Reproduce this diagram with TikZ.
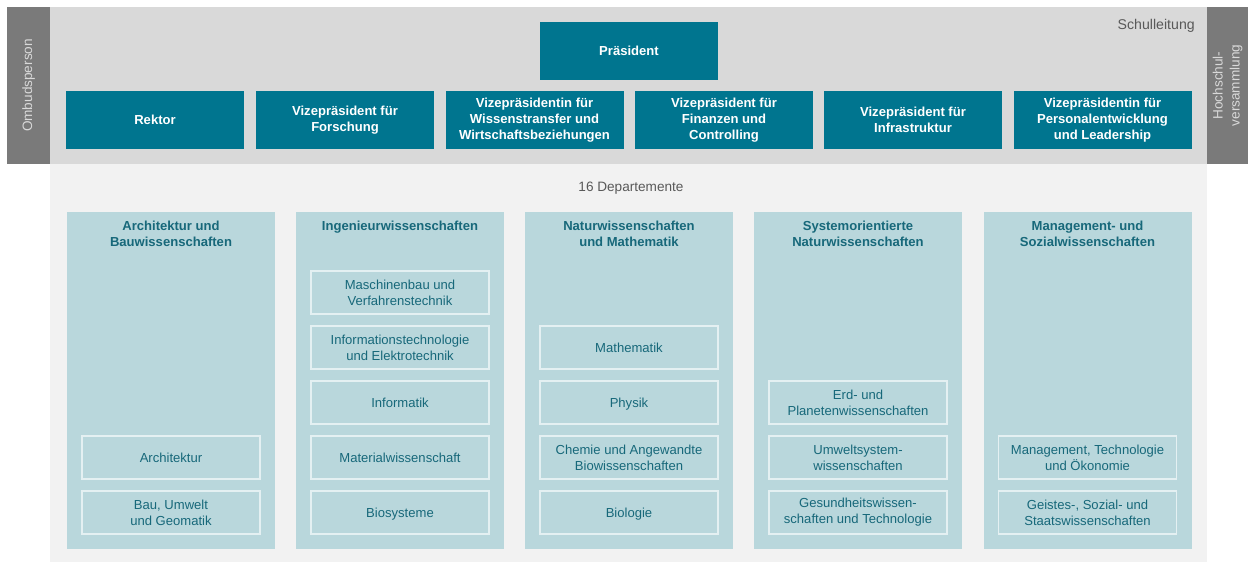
\documentclass[tikz,border=0pt]{standalone}
\usepackage{fontspec}
\setmainfont{Liberation Sans}

\definecolor{petrol}{HTML}{00758F}
\definecolor{sidegray}{HTML}{7A7A7A}
\definecolor{headgray}{HTML}{D9D9D9}
\definecolor{basegray}{HTML}{F2F2F2}
\definecolor{deptfill}{HTML}{B9D7DC}
\definecolor{depttext}{HTML}{17687A}
\definecolor{unitline}{HTML}{E4F0F2}
\definecolor{labeltext}{HTML}{595959}

\begin{document}
\begin{tikzpicture}[x=0.75pt,y=-0.75pt,
    every node/.style={font=\fontsize{9.8}{12}\selectfont},
    lead/.style={fill=petrol, text=white, font=\bfseries\fontsize{9.8}{12}\selectfont,
        align=center, minimum width=133.5pt, minimum height=43.5pt, inner sep=0pt},
    dept/.style={fill=deptfill, minimum width=156pt, minimum height=252.75pt, inner sep=0pt},
    depttitle/.style={text=depttext, font=\bfseries\fontsize{9.8}{12}\selectfont,
        align=center, anchor=north, inner sep=0pt},
    unit/.style={draw=unitline, line width=0.8pt, text=depttext, align=center,
        minimum width=133.5pt, minimum height=32.25pt, inner sep=0pt},
    side/.style={fill=sidegray, text=headgray, rotate=90, align=center,
        font=\fontsize{10.2}{12.75}\selectfont,
        minimum width=117.75pt, minimum height=32pt, inner sep=0pt}
    ]

\useasboundingbox (0,0) rectangle (1248,564);

% panels
\fill[headgray] (50,7) rectangle (1207,164);
\fill[basegray] (50,164) rectangle (1207,562);
\node[side] (ombuds) at (28.5,85.5) {Ombudsperson};
\node[side, minimum height=30.75pt] (hsv) at (1227.5,85.5) {Hochschul-\\versammlung};

\node[text=labeltext, anchor=north east, inner sep=0pt, font=\fontsize{10.6}{13}\selectfont]
    (schulleitung) at (1195,18.5) {Schulleitung};
\node[text=labeltext, font=\fontsize{10.2}{12}\selectfont] (departemente) at (631,188) {16 Departemente};

% Schulleitung
\node[lead] (praes) at (629,51) {Präsident};
\node[lead] (rektor) at (155,120) {Rektor};
\node[lead] (forschung) at (345,120) {Vizepräsident für\\Forschung};
\node[lead] (transfer) at (534.5,120) {Vizepräsidentin für\\Wissenstransfer und\\Wirtschaftsbeziehungen};
\node[lead] (finanzen) at (724,120) {Vizepräsident für\\Finanzen und\\Controlling};
\node[lead] (infra) at (913,120) {Vizepräsident für\\Infrastruktur};
\node[lead] (personal) at (1102.5,120) {Vizepräsidentin für\\Personalentwicklung\\und Leadership};

% Bereiche
\node[dept] (arch) at (171,380.5) {};
\node[dept] (ing) at (400,380.5) {};
\node[dept] (natw) at (629,380.5) {};
\node[dept] (sysn) at (858,380.5) {};
\node[dept] (mgmt) at (1087.5,380.5) {};

\node[depttitle] (archt) at (171,221) {Architektur und\\Bauwissenschaften};
\node[depttitle] (ingt) at (400,221) {Ingenieurwissenschaften};
\node[depttitle] (natwt) at (629,221) {Naturwissenschaften\\und Mathematik};
\node[depttitle] (sysnt) at (858,221) {Systemorientierte\\Naturwissenschaften};
\node[depttitle] (mgmtt) at (1087.5,221) {Management- und\\Sozialwissenschaften};

% Departemente
\node[unit] (darch) at (171,457.5) {Architektur};
\node[unit] (dbaug) at (171,512.5) {Bau, Umwelt\\und Geomatik};

\node[unit] (dmavt) at (400,292.5) {Maschinenbau und\\Verfahrenstechnik};
\node[unit] (ditet) at (400,347.5) {Informationstechnologie\\und Elektrotechnik};
\node[unit] (dinfk) at (400,402.5) {Informatik};
\node[unit] (dmatl) at (400,457.5) {Materialwissenschaft};
\node[unit, text depth=0pt] (dbsse) at (400,512.5) {Biosysteme};

\node[unit] (dmath) at (629,347.5) {Mathematik};
\node[unit, text depth=0pt] (dphys) at (629,402.5) {Physik};
\node[unit] (dchab) at (629,457.5) {Chemie und Angewandte\\Biowissenschaften};
\node[unit, text depth=0pt] (dbiol) at (629,512.5) {Biologie};

\node[unit] (derdw) at (858,402.5) {Erd- und\\Planetenwissenschaften};
\node[unit] (dusys) at (858,457.5) {Umweltsystem-\\wissenschaften};
\node[unit] (dhest) at (858,512.5) {Gesundheitswissen-\\schaften und Technologie};

\node[unit] (dmtec) at (1087.5,457.5) {Management, Technologie\\und Ökonomie};
\node[unit] (dgess) at (1087.5,512.5) {Geistes-, Sozial- und\\Staatswissenschaften};

\end{tikzpicture}
\end{document}
